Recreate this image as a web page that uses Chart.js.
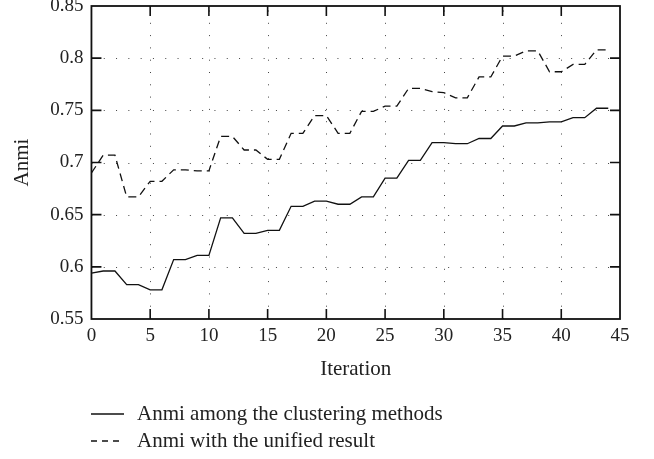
<!DOCTYPE html>
<html lang="en">
<head>
    <meta charset="UTF-8">
    <title>Anmi per iteration</title>
    <script src="https://cdn.jsdelivr.net/npm/chart.js"></script>
    <style>
        body {
            margin: 0;
            background: #fff;
            font-family: "Liberation Serif", "DejaVu Serif", serif;
        }
        #wrap {
            position: relative;
            width: 654px;
            height: 459px;
        }
        #legend {
            position: absolute;
            left: 91px;
            top: 400px;
            font-size: 21px;
            color: #222;
        }
        .item {
            display: flex;
            align-items: center;
            height: 27px;
        }
        .item svg {
            margin-right: 13px;
        }
    </style>
</head>
<body>
    <div id="wrap">
        <canvas id="chart" width="654" height="459"></canvas>
        <div id="legend"></div>
    </div>

    <script>
        const iterations = [0, 1, 2, 3, 4, 5, 6, 7, 8, 9, 10, 11, 12, 13, 14, 15, 16, 17, 18, 19, 20, 21, 22,
            23, 24, 25, 26, 27, 28, 29, 30, 31, 32, 33, 34, 35, 36, 37, 38, 39, 40, 41, 42, 43, 44];

        const anmiClustering = [0.594, 0.596, 0.596, 0.583, 0.583, 0.578, 0.578, 0.607, 0.607, 0.611,
            0.611, 0.647, 0.647, 0.632, 0.632, 0.635, 0.635, 0.658, 0.658, 0.663, 0.663, 0.660, 0.660,
            0.667, 0.667, 0.685, 0.685, 0.702, 0.702, 0.719, 0.719, 0.718, 0.718, 0.723, 0.723, 0.735,
            0.735, 0.738, 0.738, 0.739, 0.739, 0.743, 0.743, 0.752, 0.752];

        const anmiUnified = [0.690, 0.707, 0.707, 0.667, 0.667, 0.682, 0.682, 0.693, 0.693, 0.692,
            0.692, 0.725, 0.725, 0.712, 0.712, 0.703, 0.703, 0.728, 0.728, 0.745, 0.745, 0.728, 0.728,
            0.749, 0.749, 0.754, 0.754, 0.771, 0.771, 0.768, 0.767, 0.762, 0.762, 0.782, 0.782, 0.802,
            0.802, 0.807, 0.807, 0.787, 0.787, 0.794, 0.794, 0.808, 0.808];

        const xTicks = [0, 5, 10, 15, 20, 25, 30, 35, 40, 45];
        const yTicks = [0.55, 0.6, 0.65, 0.7, 0.75, 0.8, 0.85];

        const seriesNames = ['Anmi among the clustering methods', 'Anmi with the unified result'];

        const serif = '"Liberation Serif", "DejaVu Serif", serif';
        const inkColor = '#222';

        // frame, dotted grid and inward tick marks
        const framePlugin = {
            id: 'frame',
            beforeDatasetsDraw(chart) {
                const { ctx, chartArea: a, scales: { x, y } } = chart;
                ctx.save();
                ctx.strokeStyle = '#444';
                ctx.lineWidth = 1;
                ctx.setLineDash([1, 11.3]);
                xTicks.slice(1, -1).forEach(v => {
                    const px = Math.round(x.getPixelForValue(v)) + 0.5;
                    ctx.beginPath();
                    ctx.moveTo(px, a.bottom);
                    ctx.lineTo(px, a.top);
                    ctx.stroke();
                });
                yTicks.slice(1, -1).forEach(v => {
                    const py = Math.round(y.getPixelForValue(v)) + 0.5;
                    ctx.beginPath();
                    ctx.moveTo(a.left, py);
                    ctx.lineTo(a.right, py);
                    ctx.stroke();
                });
                ctx.setLineDash([]);
                ctx.strokeStyle = '#111';
                ctx.lineWidth = 1.6;
                const tl = 10;
                xTicks.slice(1, -1).forEach(v => {
                    const px = x.getPixelForValue(v);
                    ctx.beginPath();
                    ctx.moveTo(px, a.bottom);
                    ctx.lineTo(px, a.bottom - tl);
                    ctx.moveTo(px, a.top);
                    ctx.lineTo(px, a.top + tl);
                    ctx.stroke();
                });
                yTicks.slice(1, -1).forEach(v => {
                    const py = y.getPixelForValue(v);
                    ctx.beginPath();
                    ctx.moveTo(a.left, py);
                    ctx.lineTo(a.left + tl, py);
                    ctx.moveTo(a.right, py);
                    ctx.lineTo(a.right - tl, py);
                    ctx.stroke();
                });
                ctx.lineWidth = 1.8;
                ctx.strokeRect(a.left, a.top, a.right - a.left, a.bottom - a.top);
                ctx.restore();
            }
        };

        const ctx = document.getElementById('chart').getContext('2d');
        new Chart(ctx, {
            type: 'line',
            data: {
                labels: iterations,
                datasets: [{
                    label: seriesNames[0],
                    data: iterations.map((it, i) => ({ x: it, y: anmiClustering[i] })),
                    borderColor: '#111',
                    borderWidth: 1.3,
                    pointRadius: 0,
                    tension: 0
                }, {
                    label: seriesNames[1],
                    data: iterations.map((it, i) => ({ x: it, y: anmiUnified[i] })),
                    borderColor: '#111',
                    borderWidth: 1.3,
                    borderDash: [8, 5],
                    pointRadius: 0,
                    tension: 0
                }]
            },
            options: {
                responsive: false,
                animation: false,
                layout: {
                    padding: { left: 0, right: 34, top: 6, bottom: 77 }
                },
                plugins: {
                    legend: { display: false },
                    tooltip: { enabled: false }
                },
                scales: {
                    x: {
                        type: 'linear',
                        min: 0,
                        max: 45,
                        afterBuildTicks: s => { s.ticks = xTicks.map(v => ({ value: v })); },
                        grid: { display: false, drawTicks: false },
                        border: { display: false },
                        ticks: {
                            color: inkColor,
                            padding: 6,
                            maxRotation: 0,
                            font: { family: serif, size: 19 }
                        },
                        title: {
                            display: true,
                            text: 'Iteration',
                            color: inkColor,
                            padding: { top: 3, bottom: 0 },
                            font: { family: serif, size: 21 }
                        }
                    },
                    y: {
                        min: 0.55,
                        max: 0.85,
                        afterBuildTicks: s => { s.ticks = yTicks.map(v => ({ value: v })); },
                        // let the end labels hang over the frame edges like the original
                        afterFit: s => { s.paddingTop = 0; s.paddingBottom = 0; },
                        grid: { display: false, drawTicks: false },
                        border: { display: false },
                        ticks: {
                            color: inkColor,
                            padding: 8,
                            font: { family: serif, size: 19 },
                            callback: v => String(+v.toFixed(2))
                        },
                        title: {
                            display: true,
                            text: 'Anmi',
                            color: inkColor,
                            padding: { top: 10, bottom: 7 },
                            font: { family: serif, size: 21 }
                        }
                    }
                }
            },
            plugins: [framePlugin]
        });

        // legend below the chart
        const legend = document.getElementById('legend');
        seriesNames.forEach((name, i) => {
            const row = document.createElement('div');
            row.className = 'item';
            const dash = i === 1 ? 'stroke-dasharray="6,5"' : '';
            row.innerHTML = `<svg width="33" height="4"><line x1="0" y1="2" x2="33" y2="2" stroke="#111" stroke-width="1.4" ${dash}/></svg><span>${name}</span>`;
            legend.appendChild(row);
        });
    </script>
</body>
</html>
